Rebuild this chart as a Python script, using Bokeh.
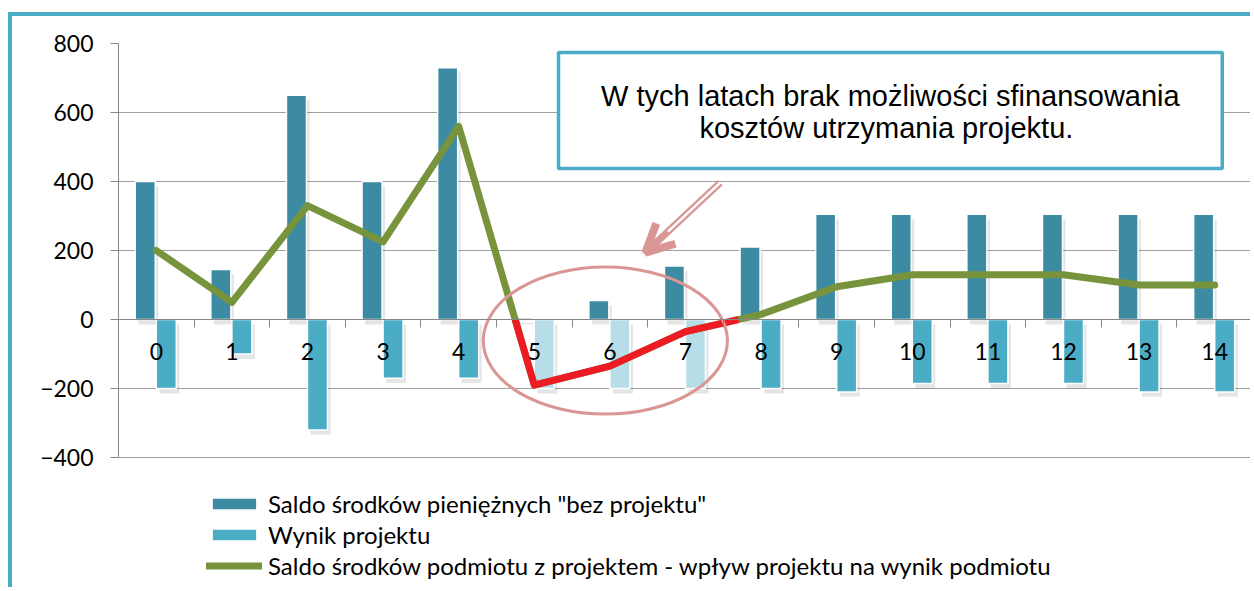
from bokeh.plotting import figure
from bokeh.models import (Range1d, LinearAxis, FixedTicker, Legend, LegendItem,
                          BoxAnnotation, Label, Arrow, OpenHead)
from bokeh.embed import file_html
from bokeh.resources import INLINE

# ---------------- data ----------------
categories = ["0", "1", "2", "3", "4", "5", "6", "7", "8", "9", "10", "11", "12", "13", "14"]
saldo_bez_projektu = [400, 145, 650, 400, 730, 5, 55, 155, 210, 305, 305, 305, 305, 305, 305]
wynik_projektu = [-200, -100, -320, -170, -170, -200, -200, -200, -200, -210, -185, -185, -185, -210, -210]
saldo_z_projektem = [200, 50, 330, 225, 560, -190, -135, -35, 15, 95, 130, 130, 130, 100, 100]
lata_bez_finansowania = [5, 6, 7]
y_ticks = [-400, -200, 0, 200, 400, 600, 800]
legend_labels = [
    'Saldo środków pieniężnych "bez projektu"',
    "Wynik projektu",
    "Saldo środków podmiotu z projektem - wpływ projektu na wynik podmiotu",
]
callout_lines = ["W tych latach brak możliwości sfinansowania",
                 "kosztów utrzymania  projektu."]

# ---------------- styles ----------------
DARK = "#3C8BA3"
LIGHT = "#4BACC6"
PALE = "#B7DEE8"
GREEN = "#77933C"
RED = "#ED1C24"
PINK = "#D99694"
GRID = "#A0A0A0"
AXIS = "#868686"
FONT = "Lato"

xs = list(range(len(categories)))
x_dark = [x - 0.146 for x in xs]
x_light = [x + 0.132 for x in xs]
light_colors = [PALE if i in lata_bez_finansowania else LIGHT for i in xs]

# negative part of the line (red overlay) with zero crossings
red_x, red_y = [], []
for i, v in enumerate(saldo_z_projektem):
    if v < 0:
        if i > 0 and saldo_z_projektem[i - 1] >= 0:
            a = saldo_z_projektem[i - 1]
            red_x.append(xs[i - 1] + a / (a - v)); red_y.append(0)
        red_x.append(xs[i]); red_y.append(v)
        if i + 1 < len(xs) and saldo_z_projektem[i + 1] >= 0:
            b = saldo_z_projektem[i + 1]
            red_x.append(xs[i] + v / (v - b)); red_y.append(0)

# the frame extends below -400 to hold the legend; the y axis is bounded to the data range
p = figure(width=1242, height=575,
           x_range=Range1d(-0.5, len(categories) - 0.5), y_range=Range1d(-788, 800),
           output_backend="svg", toolbar_location=None, x_axis_location=None,
           min_border_left=106, min_border_right=2, min_border_top=27, min_border_bottom=0)
p.outline_line_color = None
p.background_fill_color = "white"
p.border_fill_color = "white"
p.styles = {"margin-left": "8px", "margin-top": "12px",
            "border-left": "4px solid #4BACC6", "border-top": "4px solid #4BACC6"}

for g in p.xgrid:
    g.visible = False
p.ygrid.ticker = FixedTicker(ticks=y_ticks)
p.ygrid.grid_line_color = GRID
p.ygrid.grid_line_width = 1

ya = p.yaxis[0]
ya.ticker = FixedTicker(ticks=y_ticks)
ya.bounds = (y_ticks[0], y_ticks[-1])
ya.axis_line_color = AXIS
ya.major_tick_line_color = AXIS
ya.major_tick_out = 8
ya.major_tick_in = 0
ya.minor_tick_out = 0
ya.minor_tick_in = 0
ya.major_label_standoff = 17
ya.major_label_text_font = FONT
ya.major_label_text_font_size = "23px"
ya.major_label_text_color = "#000000"

# x axis at 0: ticks at category boundaries
tick_axis = LinearAxis(fixed_location=0,
                       ticker=FixedTicker(ticks=[x - 0.5 for x in xs] + [xs[-1] + 0.5]),
                       axis_line_color=AXIS, major_tick_line_color=AXIS,
                       major_tick_out=8, major_tick_in=0, minor_tick_out=0, minor_tick_in=0,
                       major_label_text_alpha=0, major_label_text_font_size="1px")
p.add_layout(tick_axis, "below")
label_axis = LinearAxis(fixed_location=0, ticker=FixedTicker(ticks=xs),
                        major_label_overrides={x: c for x, c in zip(xs, categories)},
                        axis_line_color=None, major_tick_line_color=None,
                        major_tick_out=0, major_tick_in=0, minor_tick_out=0, minor_tick_in=0,
                        major_label_standoff=23, major_label_text_font=FONT,
                        major_label_text_font_size="23px", major_label_text_color="#000000")
p.add_layout(label_axis, "below")

# shadows
p.vbar(x=[x + 0.04 for x in x_dark], width=0.265, top=[v - 14 for v in saldo_bez_projektu],
       bottom=-14, fill_color="black", fill_alpha=0.1, line_color=None)
p.vbar(x=[x + 0.04 for x in x_light], width=0.265, top=-14,
       bottom=[v - 14 for v in wynik_projektu], fill_color="black", fill_alpha=0.1, line_color=None)

r_dark = p.vbar(x=x_dark, width=0.265, top=saldo_bez_projektu, bottom=0,
                fill_color=DARK, line_color="white", line_width=1.5)
r_light = p.vbar(x=x_light, width=0.265, top=0, bottom=wynik_projektu,
                 fill_color=light_colors, line_color="white", line_width=1.5)
r_line = p.line(xs, saldo_z_projektem, line_color=GREEN, line_width=7,
                line_join="round", line_cap="round")
p.line(red_x, red_y, line_color=RED, line_width=7, line_join="round")

# circled area
p.ellipse(x=[5.94], y=[-61], width=[3.23], height=[426],
          fill_color=None, line_color=PINK, line_width=3)

# callout box
p.add_layout(BoxAnnotation(left=5.32, right=14.10, bottom=438, top=774,
                           fill_color="white", fill_alpha=1.0,
                           line_color="#4BACC6", line_alpha=1.0, line_width=3.5))
for txt, yy in zip(callout_lines, [648, 554]):
    p.add_layout(Label(x=9.71, y=yy, text=txt, text_align="center", text_baseline="middle",
                       text_font="Liberation Sans", text_font_size="29px", text_color="#000000"))

# double-line arrow
tail = (7.46, 397)
tip = (6.47, 194)
p.add_layout(Arrow(x_start=tail[0], y_start=tail[1], x_end=tip[0], y_end=tip[1],
                   line_color=PINK, line_width=7,
                   end=OpenHead(size=28, line_color=PINK, line_width=8)))
inner_end = (tip[0] + 0.3 * (tail[0] - tip[0]), tip[1] + 0.3 * (tail[1] - tip[1]))
p.add_layout(Arrow(x_start=tail[0], y_start=tail[1], x_end=inner_end[0], y_end=inner_end[1],
                   line_color="white", line_width=2.5, end=None))

legend = Legend(items=[LegendItem(label=legend_labels[0], renderers=[r_dark]),
                       LegendItem(label=legend_labels[1], renderers=[r_light]),
                       LegendItem(label=legend_labels[2], renderers=[r_line])],
                location=(88, 11), orientation="vertical",
                border_line_color=None, background_fill_alpha=0,
                padding=0, margin=0, spacing=2, glyph_width=56, glyph_height=15,
                label_standoff=6, label_text_font=FONT, label_text_font_size="24px",
                label_text_color="#000000")
p.add_layout(legend)

open("out.html", "w").write(file_html(p, INLINE))
